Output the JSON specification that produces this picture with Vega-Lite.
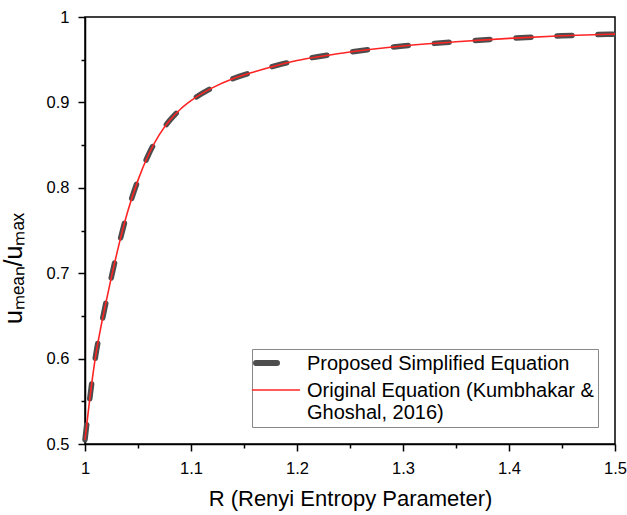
{
  "$schema": "https://vega.github.io/schema/vega-lite/v6.json",
  "width": 530,
  "height": 427,
  "autosize": {"type": "none"},
  "padding": {"left": 85, "top": 17, "right": 12, "bottom": 71},
  "background": "white",
  "config": {
    "view": {"stroke": "black", "strokeWidth": 1.5},
    "font": "Liberation Sans",
    "axis": {
      "grid": false,
      "domainColor": "black",
      "domainWidth": 1.5,
      "tickColor": "black",
      "tickWidth": 1.5,
      "labelColor": "black",
      "labelFont": "Liberation Sans",
      "labelFontSize": 16.5,
      "titleColor": "black",
      "titleFont": "Liberation Sans",
      "titleFontSize": 22,
      "titleFontWeight": "normal"
    },
    "legend": {
      "labelFont": "Liberation Sans",
      "labelFontSize": 20,
      "labelColor": "black"
    }
  },
  "datasets": {
    "curve": [
      {"R": 1.000, "u": 0.505},
      {"R": 1.005, "u": 0.558},
      {"R": 1.010, "u": 0.603},
      {"R": 1.015, "u": 0.637},
      {"R": 1.020, "u": 0.667},
      {"R": 1.025, "u": 0.696},
      {"R": 1.030, "u": 0.723},
      {"R": 1.040, "u": 0.771},
      {"R": 1.050, "u": 0.809},
      {"R": 1.060, "u": 0.839},
      {"R": 1.070, "u": 0.862},
      {"R": 1.080, "u": 0.879},
      {"R": 1.090, "u": 0.892},
      {"R": 1.100, "u": 0.902},
      {"R": 1.120, "u": 0.917},
      {"R": 1.140, "u": 0.928},
      {"R": 1.160, "u": 0.936},
      {"R": 1.180, "u": 0.943},
      {"R": 1.200, "u": 0.949},
      {"R": 1.250, "u": 0.959},
      {"R": 1.300, "u": 0.966},
      {"R": 1.350, "u": 0.971},
      {"R": 1.400, "u": 0.975},
      {"R": 1.450, "u": 0.978},
      {"R": 1.500, "u": 0.980}
    ]
  },
  "data": {"name": "curve"},
  "encoding": {
    "x": {
      "field": "R", "type": "quantitative",
      "scale": {"domain": [1, 1.5], "nice": false, "zero": false},
      "axis": {
        "title": "R (Renyi Entropy Parameter)",
        "values": [1, 1.05, 1.1, 1.15, 1.2, 1.25, 1.3, 1.35, 1.4, 1.45, 1.5],
        "labelExpr": "abs(datum.value*10 - round(datum.value*10)) < 0.001 ? format(datum.value, '.1~f') : ''",
        "tickSize": {"condition": {"test": "abs(datum.value*10 - round(datum.value*10)) < 0.001", "value": 7}, "value": 4},
        "labelPadding": 9,
        "titlePadding": 12,
        "labelFlush": false
      }
    },
    "y": {
      "field": "u", "type": "quantitative",
      "scale": {"domain": [0.5, 1], "nice": false, "zero": false},
      "axis": {
        "title": "uₘₑₐₙ/uₘₐₓ",
        "titleFontSize": 25,
        "titleX": -59,
        "titleY": 251,
        "values": [0.5, 0.55, 0.6, 0.65, 0.7, 0.75, 0.8, 0.85, 0.9, 0.95, 1],
        "labelExpr": "abs(datum.value*10 - round(datum.value*10)) < 0.001 ? format(datum.value, '.1~f') : ''",
        "tickSize": {"condition": {"test": "abs(datum.value*10 - round(datum.value*10)) < 0.001", "value": 7}, "value": 4},
        "labelPadding": 9,
        "labelFlush": false
      }
    }
  },
  "layer": [
    {
      "transform": [{"calculate": "'Proposed Simplified Equation'", "as": "series"}],
      "mark": {"type": "line", "interpolate": "monotone", "strokeWidth": 5.5, "strokeDash": [15, 26], "strokeCap": "round"},
      "encoding": {
        "color": {
          "field": "series", "type": "nominal",
          "scale": {"domain": ["Proposed Simplified Equation", "Original Equation (Kumbhakar & Ghoshal, 2016)"], "range": ["#4d4d4d", "#ff2424"]},
          "legend": {
            "title": null,
            "orient": "none",
            "legendX": 167,
            "legendY": 332,
            "strokeColor": "#888888",
            "fillColor": "white",
            "padding": 4,
            "symbolType": "stroke",
            "symbolSize": 2200,
            "symbolStrokeWidth": 2,
            "labelExpr": "datum.label == 'Original Equation (Kumbhakar & Ghoshal, 2016)' ? ['Original Equation (Kumbhakar &', 'Ghoshal, 2016)'] : datum.label",
            "labelBaseline": "alphabetic",
            "labelOffset": 31,
            "rowPadding": 5,
            "labelLimit": 400,
            "encode": {
              "labels": {
                "update": {
                  "dy": {"value": 7},
                  "lineHeight": {"value": 22}
                }
              },
              "symbols": {
                "update": {
                  "x": {"signal": "datum.value == 'Proposed Simplified Equation' ? 10.5 : 20"},
                  "size": {"signal": "datum.value == 'Proposed Simplified Equation' ? 441 : 2200"},
                  "strokeWidth": {"signal": "datum.value == 'Proposed Simplified Equation' ? 6 : 1.5"},
                  "strokeDash": {"value": [1, 0]},
                  "strokeCap": {"value": "round"}
                }
              }
            }
          }
        }
      }
    },
    {
      "transform": [{"calculate": "'Original Equation (Kumbhakar & Ghoshal, 2016)'", "as": "series"}],
      "mark": {"type": "line", "interpolate": "monotone", "strokeWidth": 1.6},
      "encoding": {
        "color": {"field": "series", "type": "nominal"}
      }
    }
  ]
}
